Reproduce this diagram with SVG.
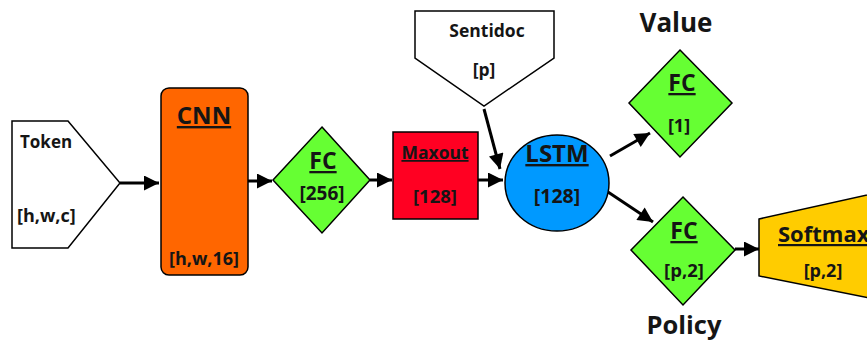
<svg xmlns="http://www.w3.org/2000/svg" width="867" height="342" viewBox="0 0 867 342">
  <defs>
    <marker id="arrow" viewBox="0 0 10 10" refX="10" refY="5" markerWidth="18" markerHeight="15" markerUnits="userSpaceOnUse" orient="auto">
      <path d="M0,0 L10,5 L0,10 Z" fill="#000"/>
    </marker>
  </defs>
  <style>
    text { font-family: "Open Sans", "Noto Sans", "Liberation Sans", sans-serif; font-weight: bold; fill: #151515; text-anchor: middle; }
    .title { text-decoration: underline; }
    .shape { stroke: #000; stroke-width: 1.5; }
    .conn { stroke: #000; stroke-width: 3; fill: none; marker-end: url(#arrow); }
  </style>
  <rect width="867" height="342" fill="#fff"/>

  <g id="connectors">
    <line class="conn" x1="120" y1="183" x2="159" y2="183"/>
    <line class="conn" x1="248" y1="181" x2="272" y2="181"/>
    <line class="conn" x1="370" y1="180" x2="392" y2="180"/>
    <line class="conn" x1="478" y1="180" x2="503" y2="180"/>
    <line class="conn" x1="484" y1="109" x2="500" y2="169"/>
    <line class="conn" x1="610" y1="156" x2="650" y2="133"/>
    <line class="conn" x1="608" y1="192" x2="653" y2="222"/>
    <line class="conn" x1="735" y1="249" x2="759" y2="249"/>
  </g>

  <g id="token">
    <polygon class="shape" points="12,121 68,121 120,183 68,248 12,248" fill="#fff"/>
    <text x="20" y="148" font-size="17" style="text-anchor:start">Token</text>
    <text x="17" y="222" font-size="18" style="text-anchor:start">[h,w,c]</text>
  </g>

  <g id="cnn">
    <rect class="shape" x="161" y="88" width="87" height="187" rx="8" fill="#FF6600"/>
    <text class="title" x="204" y="124" font-size="24">CNN</text>
    <text x="204" y="265" font-size="18">[h,w,16]</text>
  </g>

  <g id="fc256">
    <polygon class="shape" points="322,127 370,180 322,233 273,180" fill="#66FF33"/>
    <text class="title" x="323" y="169" font-size="23">FC</text>
    <text x="322" y="200" font-size="19">[256]</text>
  </g>

  <g id="maxout">
    <rect class="shape" x="393" y="132" width="85" height="87" fill="#FF0022"/>
    <text class="title" x="435" y="159" font-size="17.5">Maxout</text>
    <text x="435" y="203" font-size="18.5">[128]</text>
  </g>

  <g id="sentidoc">
    <polygon class="shape" points="415,11 554,11 554,58 484,106 415,58" fill="#fff"/>
    <text x="487" y="37" font-size="17.5">Sentidoc</text>
    <text x="484" y="76" font-size="17.5">[p]</text>
  </g>

  <g id="lstm">
    <ellipse class="shape" cx="557" cy="183" rx="52" ry="48" fill="#0099FF"/>
    <text class="title" x="557" y="162" font-size="24">LSTM</text>
    <text x="557" y="203" font-size="19.5">[128]</text>
  </g>

  <g id="fc-value">
    <text x="676" y="32" font-size="26">Value</text>
    <polygon class="shape" points="680,50 732,103 680,157 629,103" fill="#66FF33"/>
    <text class="title" x="682" y="91" font-size="23">FC</text>
    <text x="679" y="132" font-size="18">[1]</text>
  </g>

  <g id="fc-policy">
    <polygon class="shape" points="683,197 735,250 683,305 631,250" fill="#66FF33"/>
    <text class="title" x="684" y="239" font-size="23">FC</text>
    <text x="684" y="277" font-size="18.5">[p,2]</text>
    <text x="684" y="334" font-size="25.5">Policy</text>
  </g>

  <g id="softmax">
    <polygon class="shape" points="759,219 880,192 880,300 759,276" fill="#FFCC00"/>
    <text class="title" x="778" y="242" font-size="22" style="text-anchor:start">Softmax</text>
    <text x="823" y="277" font-size="18">[p,2]</text>
  </g>
</svg>
